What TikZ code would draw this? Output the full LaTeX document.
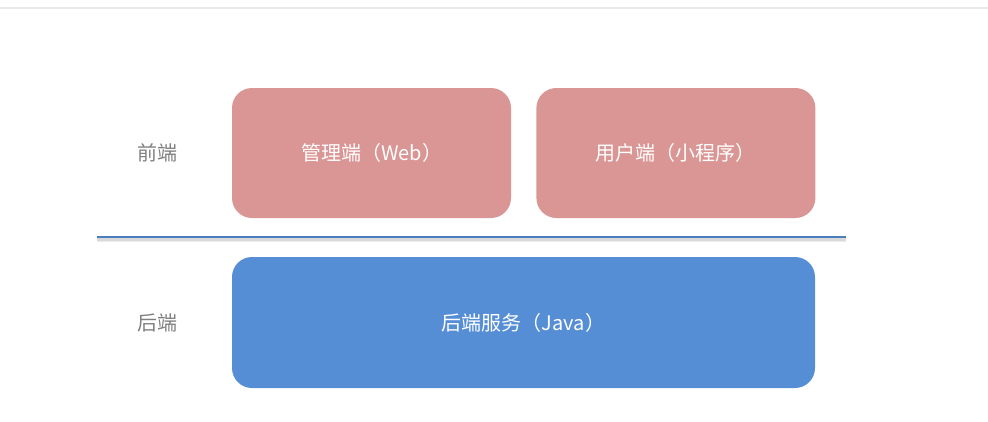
\documentclass[tikz,border=0pt]{standalone}
\usepackage{fontspec}
\newfontfamily\cjk{Noto Sans CJK SC}
\usetikzlibrary{positioning}
\definecolor{feRed}{HTML}{DA9694}
\definecolor{beBlue}{HTML}{558ED5}
\definecolor{sepBlue}{HTML}{4A7EBF}
\definecolor{lblGray}{HTML}{7F7F7F}
\tikzset{
  tier/.style={rectangle, rounded corners=20pt, draw=none, text=white,
               align=center, inner sep=0pt, font=\cjk\fontsize{20}{24}\selectfont},
  fe/.style={tier, fill=feRed, minimum width=279pt, minimum height=130pt},
  be/.style={tier, fill=beBlue, minimum width=583pt, minimum height=131pt},
  lbl/.style={text=lblGray, font=\cjk\fontsize{20}{24}\selectfont},
}
\begin{document}
\begin{tikzpicture}[x=1pt, y=-1pt]
\useasboundingbox (0,0) rectangle (988,421);
% top rule of the page
\draw[line width=1.5pt, black!9] (0,8) -- (988,8);
\node[fe] (admin) at (371.5,153) {管理端（Web）};
\node[fe, right=25pt of admin] (user) {用户端（小程序）};
\node[be] (backend) at (523.5,322.5) {后端服务（Java）};
\node[lbl] (lblfront) at (157,153) {前端};
\node[lbl] (lblback) at (157,323) {后端};
% divider with its shadow
\coordinate (sepL) at (97,237);
\coordinate (sepR) at (846,237);
\draw[line width=4.5pt, black!8] ([yshift=-3pt]sepL) -- ([yshift=-3pt]sepR);
\draw[line width=2.5pt, black!15] ([yshift=-2.5pt]sepL) -- ([yshift=-2.5pt]sepR);
\draw[line width=2pt, sepBlue] (sepL) -- (sepR);
\end{tikzpicture}
\end{document}
